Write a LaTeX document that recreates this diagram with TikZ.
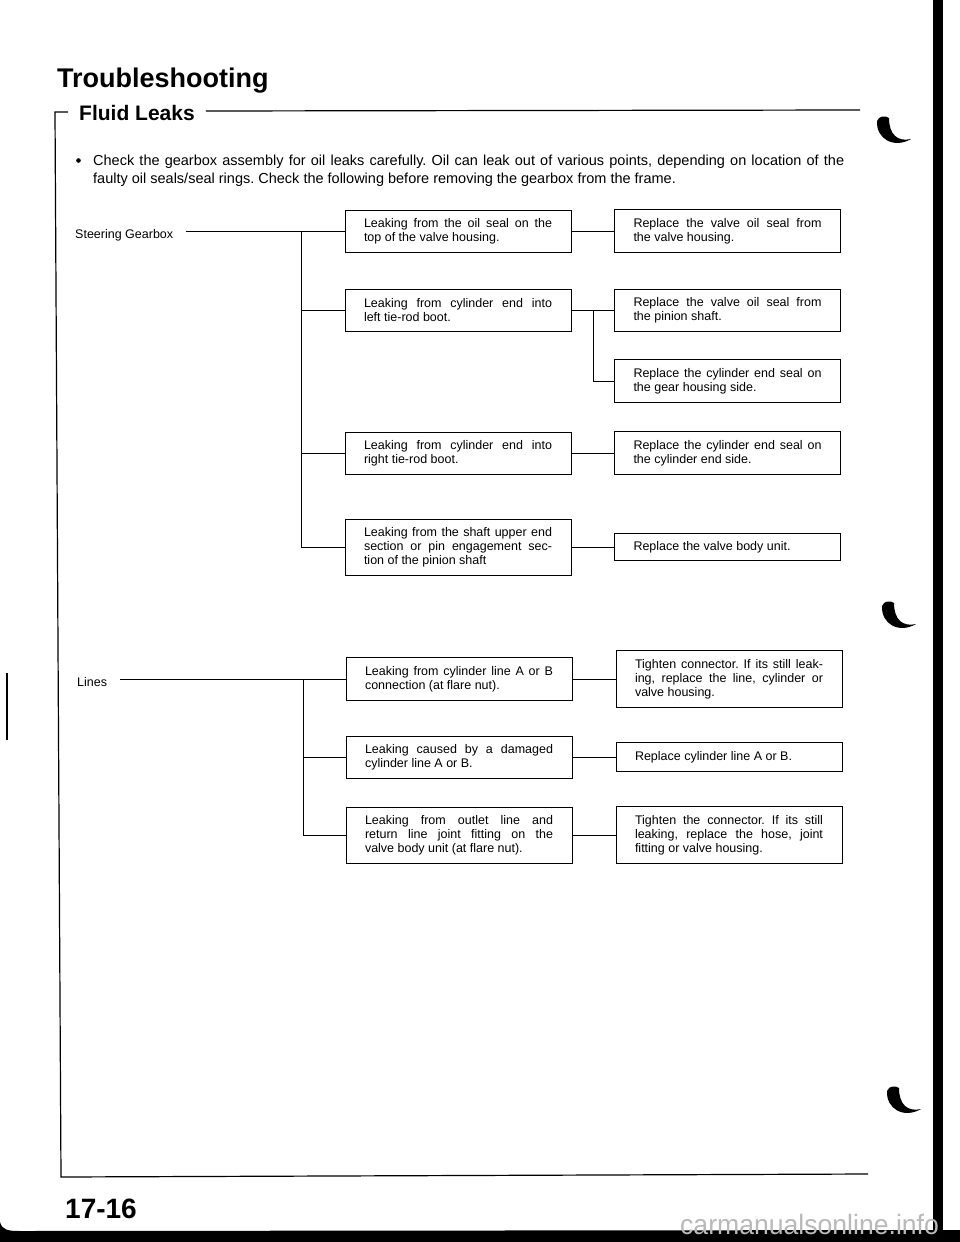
\documentclass[tikz,border=0pt]{standalone}
\usepackage{fontspec}
\setmainfont{Liberation Sans}
\frenchspacing
\newcommand\myboxfont{\fontsize{12.5}{14}\selectfont\frenchspacing\tolerance=10000\hyphenpenalty=10000}
\begin{document}
\begin{tikzpicture}[x=1pt,y=-1pt,
  every node/.style={inner sep=0pt},
  box/.style={draw, line width=0.8pt, text width=188pt, inner xsep=19pt, inner ysep=0pt, align=justify, font=\myboxfont},
  conn/.style={line width=0.8pt},
  lbl/.style={font=\fontsize{12.5}{14}\selectfont, anchor=base west},
  frame/.style={line width=1.2pt}
]
\useasboundingbox (0,0) rectangle (960,1242);
\fill[white] (0,0) rectangle (960,1242);

% header
\node[anchor=base west, font=\fontsize{27}{30}\selectfont\bfseries] (title) at (57,87.3) {Troubleshooting};
\node[anchor=base west, font=\fontsize{21}{24}\selectfont\bfseries] (fl) at (79,120) {Fluid Leaks};
\draw[frame] (68,112) -- (55,112) -- (61,1177) -- (868,1174);
\draw[frame] (fl.east |- 0,111) ++(11,0) -- (860,110);

% bullet text
\fill (78.5,160.5) circle (2.3);
\node[anchor=base west, font=\fontsize{14.5}{17.5}\selectfont\frenchspacing] (b1) at (93,165.5) {\makebox[751pt][s]{Check the gearbox assembly for oil leaks carefully. Oil can leak out of various points, depending on location of the}};
\node[anchor=base west, font=\fontsize{14.5}{17.5}\selectfont\frenchspacing] (b2) at (93,183) {faulty oil seals/seal rings. Check the following before removing the gearbox from the frame.};

% Steering gearbox group
\node[lbl] (sg) at (75,238.5) {Steering Gearbox};
\node[box, minimum height=42pt] (L1) at (458,231) {Leaking from the oil seal on the\linebreak top of the valve housing.};
\node[box, minimum height=43pt] (R1) at (727.5,231) {Replace the valve oil seal from\linebreak the valve housing.};
\node[box, minimum height=42pt] (L2) at (458,310) {Leaking from cylinder end into\linebreak left tie-rod boot.};
\node[box, minimum height=42pt] (R2) at (727.5,310) {Replace the valve oil seal from\linebreak the pinion shaft.};
\node[box, minimum height=43pt] (R3) at (727.5,381) {Replace the cylinder end seal on\linebreak the gear housing side.};
\node[box, minimum height=42pt] (L3) at (458,453) {Leaking from cylinder end into\linebreak right tie-rod boot.};
\node[box, minimum height=43pt] (R4) at (727.5,453) {Replace the cylinder end seal on\linebreak the cylinder end side.};
\node[box, minimum height=56pt] (L4) at (458,547) {Leaking from the shaft upper end\linebreak section or pin engagement sec-\linebreak tion of the pinion shaft};
\node[box, minimum height=27pt] (R5) at (727.5,547) {Replace the valve body unit.};

\coordinate (t1) at (301,0);
\coordinate (j) at (593,0);
\draw[conn] (sg.east |- L1.west) ++(13,0) -- (L1.west);
\draw[conn] (t1 |- L1.west) -- (t1 |- L4.west);
\foreach \n in {L2,L3,L4} \draw[conn] (t1 |- \n.west) -- (\n.west);
\draw[conn] (L1) -- (R1);
\draw[conn] (L2) -- (R2);
\draw[conn] (j |- L2.east) |- (R3.west);
\draw[conn] (L3) -- (R4);
\draw[conn] (L4) -- (R5);

% Lines group
\node[lbl] (ln) at (77,686) {Lines};
\node[box, minimum height=43pt] (L5) at (459,679) {Leaking from cylinder line A or B\linebreak connection (at flare nut).};
\node[box, minimum height=57pt] (R6) at (729,679) {Tighten connector. If its still leak-\linebreak ing, replace the line, cylinder or\linebreak valve housing.};
\node[box, minimum height=42pt] (L6) at (459,757) {Leaking caused by a damaged\linebreak cylinder line A or B.};
\node[box, minimum height=29pt] (R7) at (729,757) {Replace cylinder line A or B.};
\node[box, minimum height=56pt] (L7) at (459,835) {Leaking from outlet line and\linebreak return line joint fitting on the\linebreak valve body unit (at flare nut).};
\node[box, minimum height=57pt] (R8) at (729,835) {Tighten the connector. If its still\linebreak leaking, replace the hose, joint\linebreak fitting or valve housing.};

\coordinate (t2) at (303,0);
\draw[conn] (ln.east |- L5.west) ++(13,0) -- (L5.west);
\draw[conn] (t2 |- L5.west) -- (t2 |- L7.west);
\foreach \n in {L6,L7} \draw[conn] (t2 |- \n.west) -- (\n.west);
\draw[conn] (L5) -- (R6);
\draw[conn] (L6) -- (R7);
\draw[conn] (L7) -- (R8);

% page number
\node[anchor=base west, font=\fontsize{28}{30}\selectfont\bfseries] (pg) at (65,1218) {17-16};

% thumb-index marks (crescents)
\foreach \dx/\dy in {0/0,5/485,10/970}{
  \fill[shift={(\dx,\dy)}] (877,121) .. controls (876,139) and (894,149) .. (911,139)
     .. controls (898,142) and (889,135) .. (889,118) .. controls (885,115) and (879,116) .. cycle;
}

% scan edges
\fill (933,0) rectangle (943,1236);
\fill (0,1222) .. controls (2,1230) and (8,1231) .. (20,1231) -- (960,1230) -- (960,1242) -- (0,1242) -- cycle;
\draw[line width=1.5pt] (7,673) -- (7,740);
\node[anchor=base west, text=gray!55, font=\fontsize{28}{28}\selectfont, xscale=0.95] (wm) at (680,1234) {carmanualsonline.info};
\end{tikzpicture}
\end{document}
